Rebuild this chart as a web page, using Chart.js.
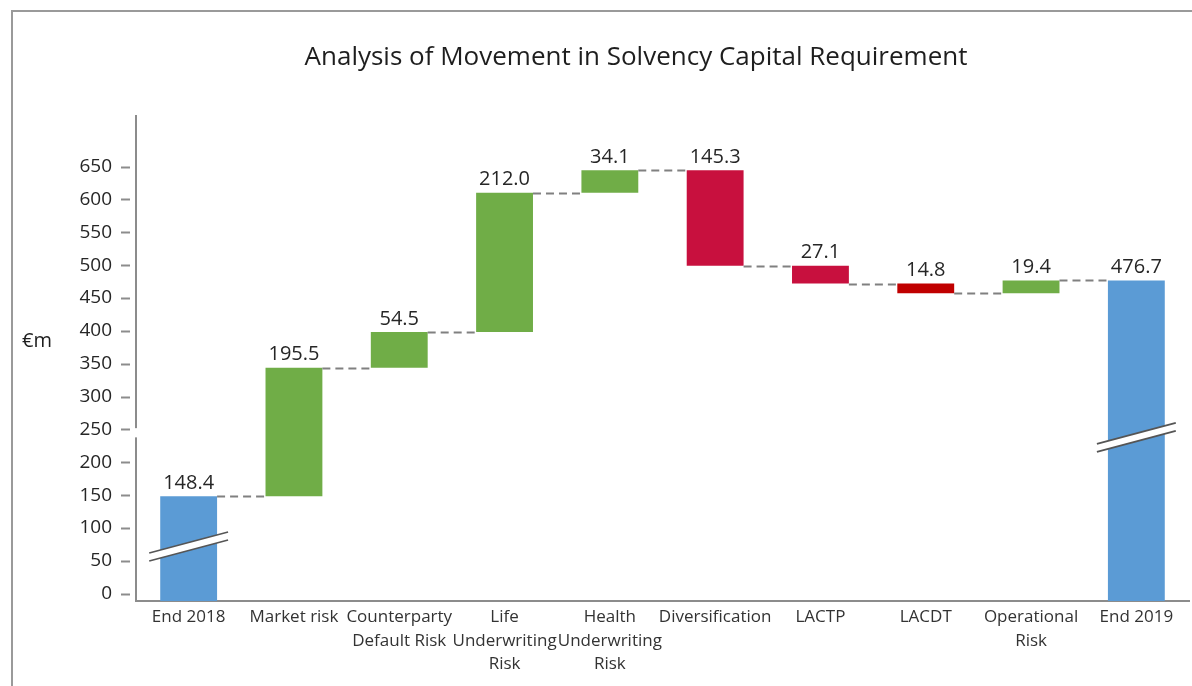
<!DOCTYPE html>
<html>
<head>
<meta charset="utf-8">
<script src="https://cdn.jsdelivr.net/npm/chart.js@4.4.1/dist/chart.umd.min.js"></script>
<style>
  html, body { margin: 0; padding: 0; background: #fff; }
  #wrap { position: relative; width: 1192px; height: 686px; overflow: hidden; }
  #frame { position: absolute; left: 11px; top: 10px; width: 1190px; height: 690px;
           border-top: 2px solid #9a9a9a; border-left: 2px solid #9a9a9a; box-sizing: border-box; }
  canvas { position: absolute; left: 0; top: 0; }
</style>
</head>
<body>
<div id="wrap">
  <div id="frame"></div>
  <canvas id="chart" width="1192" height="686"></canvas>
</div>
<script>
// --- data ---
const categories = ["End 2018", "Market risk", ["Counterparty", "Default Risk"],
  ["Life", "Underwriting", "Risk"], ["Health", "Underwriting", "Risk"],
  "Diversification", "LACTP", "LACDT", ["Operational", "Risk"], "End 2019"];
const startValue = 148.4;
const moves = [195.5, 54.5, 212.0, 34.1, -145.3, -27.1, -14.8, 19.4];
const endValue = 476.7;
const yTicks = [0, 50, 100, 150, 200, 250, 300, 350, 400, 450, 500, 550, 600, 650];

const Y_MIN = -11, Y_MAX = 727;
const BLUE = "#5b9bd5", GREEN = "#70ad47", CRIMSON = "#c8103e", RED = "#c00000";

// --- build the waterfall ---
const bars = [[Y_MIN, startValue]];
const labels = [startValue.toFixed(1)];
const levels = [startValue];
const colors = [BLUE];
let run = startValue;
moves.forEach((m, i) => {
  const next = run + m;
  bars.push([run, next]);
  labels.push(Math.abs(m).toFixed(1));
  colors.push(m >= 0 ? GREEN : (i === 6 ? RED : CRIMSON));
  run = next;
  levels.push(run);
});
bars.push([Y_MIN, endValue]);
labels.push(endValue.toFixed(1));
colors.push(BLUE);

const FONT = "'Open Sans', sans-serif";

const extras = {
  id: "extras",
  afterDatasetsDraw(chart) {
    const ctx = chart.ctx;
    const meta = chart.getDatasetMeta(0);
    const y = chart.scales.y;
    const area = chart.chartArea;

    // title
    ctx.save();
    ctx.font = "26px " + FONT;
    ctx.fillStyle = "#1e1e1e";
    ctx.textAlign = "center";
    ctx.textBaseline = "middle";
    ctx.fillText("Analysis of Movement in Solvency Capital Requirement", 636, 58);
    ctx.restore();

    // dashed connectors
    ctx.save();
    ctx.strokeStyle = "#808080";
    ctx.lineWidth = 2;
    ctx.setLineDash([8, 5]);
    for (let i = 0; i < meta.data.length - 1; i++) {
      const a = meta.data[i], b = meta.data[i + 1];
      const py = Math.round(y.getPixelForValue(levels[i])) + 0.5;
      ctx.beginPath();
      ctx.moveTo(a.x + a.width / 2, py);
      ctx.lineTo(b.x - b.width / 2, py);
      ctx.stroke();
    }
    ctx.restore();

    // value labels
    ctx.save();
    ctx.font = "20px " + FONT;
    ctx.fillStyle = "#262626";
    ctx.textAlign = "center";
    ctx.textBaseline = "bottom";
    meta.data.forEach((bar, i) => {
      const top = Math.min(bar.y, bar.base);
      ctx.fillText(labels[i], bar.x, top - 3);
    });
    ctx.restore();

    // break marks on the total bars
    const breaks = [[0, 72], [meta.data.length - 1, 238]];
    ctx.save();
    breaks.forEach(([idx, v]) => {
      const bar = meta.data[idx];
      const cy = y.getPixelForValue(v);
      const x0 = bar.x - bar.width / 2 - 11, x1 = bar.x + bar.width / 2 + 11;
      const rise = 10.5, gap = 4;
      ctx.fillStyle = "#fff";
      ctx.beginPath();
      ctx.moveTo(x0, cy + rise - gap);
      ctx.lineTo(x1, cy - rise - gap);
      ctx.lineTo(x1, cy - rise + gap);
      ctx.lineTo(x0, cy + rise + gap);
      ctx.closePath();
      ctx.fill();
      ctx.strokeStyle = "#555";
      ctx.lineWidth = 1.6;
      [-gap, gap].forEach(d => {
        ctx.beginPath();
        ctx.moveTo(x0, cy + rise + d);
        ctx.lineTo(x1, cy - rise + d);
        ctx.stroke();
      });
    });
    ctx.restore();

    // gap in the y axis line
    ctx.save();
    ctx.fillStyle = "#fff";
    const g0 = y.getPixelForValue(252), g1 = y.getPixelForValue(238);
    ctx.fillRect(area.left - 3, g0, 6, g1 - g0);
    ctx.restore();

    // small tick dashes left of the axis
    ctx.save();
    ctx.strokeStyle = "#8c8c8c";
    ctx.lineWidth = 2;
    yTicks.forEach(t => {
      const py = Math.round(y.getPixelForValue(t)) + 0.5;
      ctx.beginPath();
      ctx.moveTo(area.left - 15, py);
      ctx.lineTo(area.left - 6, py);
      ctx.stroke();
    });
    ctx.restore();

    // axis unit
    ctx.save();
    ctx.font = "20px " + FONT;
    ctx.fillStyle = "#1e1e1e";
    ctx.textAlign = "left";
    ctx.textBaseline = "middle";
    ctx.fillText("€m", 22, 341);
    ctx.restore();
  }
};

new Chart(document.getElementById("chart"), {
  type: "bar",
  data: {
    labels: categories,
    datasets: [{
      data: bars,
      backgroundColor: colors,
      borderWidth: 0,
      barPercentage: 0.54,
      categoryPercentage: 1.0
    }]
  },
  options: {
    responsive: false,
    animation: false,
    layout: { padding: { left: 0, right: 3, top: 116, bottom: 0 } },
    plugins: {
      legend: { display: false },
      tooltip: { enabled: false },
      title: { display: false }
    },
    scales: {
      x: {
        grid: { display: false, drawTicks: false },
        border: { color: "#8c8c8c", width: 2 },
        ticks: {
          color: "#333",
          font: { family: FONT, size: 17, lineHeight: 1.4 },
          padding: 4,
          maxRotation: 0,
          autoSkip: false
        },
        afterFit(scale) { scale.height = 85; }
      },
      y: {
        min: Y_MIN,
        max: Y_MAX,
        grid: { display: false, drawTicks: false },
        border: { color: "#8c8c8c", width: 2 },
        ticks: {
          stepSize: 50,
          color: "#262626",
          font: { family: FONT, size: 19 },
          padding: 24
        },
        afterBuildTicks(scale) {
          scale.ticks = yTicks.map(v => ({ value: v }));
        },
        afterFit(scale) { scale.width = 136; }
      }
    }
  },
  plugins: [extras]
});
</script>
</body>
</html>
